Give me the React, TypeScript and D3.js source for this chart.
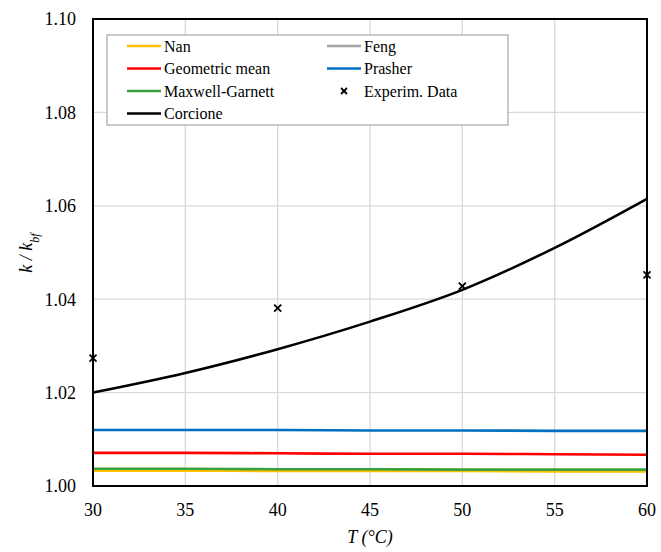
import React from "react";
import * as d3 from "d3";

const temps = [30, 35, 40, 45, 50, 55, 60];
const corcione = [1.02, 1.0242, 1.0293, 1.0352, 1.0420, 1.0510, 1.0615];
const prasher = [1.0120, 1.0120, 1.0120, 1.0119, 1.0119, 1.0118, 1.0118];
const geoMean = [1.0071, 1.0071, 1.0070, 1.0069, 1.0069, 1.0068, 1.0067];
const maxwell = [1.0037, 1.0037, 1.0036, 1.0036, 1.0035, 1.0035, 1.0035];
const feng = [1.0035, 1.0035, 1.0034, 1.0034, 1.0034, 1.0033, 1.0033];
const nan = [1.0033, 1.0033, 1.0032, 1.0032, 1.0032, 1.0031, 1.0031];
const expT = [30, 40, 50, 60];
const expK = [1.0274, 1.0381, 1.0428, 1.0452];
const xTicks = [30, 35, 40, 45, 50, 55, 60];
const yTicks = [1.0, 1.02, 1.04, 1.06, 1.08, 1.1];

const series = [
  { name: "Prasher", values: prasher, color: "#0070c0" },
  { name: "Geometric mean", values: geoMean, color: "#ff0000" },
  { name: "Feng", values: feng, color: "#a5a5a5" },
  { name: "Nan", values: nan, color: "#ffc000" },
  { name: "Maxwell-Garnett", values: maxwell, color: "#3aa23a" },
  { name: "Corcione", values: corcione, color: "#000000" },
];

export default function App() {
  const W = 661, H = 552;
  const m = { left: 93, right: 647, top: 19, bottom: 486 };
  const x = d3.scaleLinear().domain([30, 60]).range([m.left, m.right]);
  const y = d3.scaleLinear().domain([1.0, 1.1]).range([m.bottom, m.top]);
  const font = '"Liberation Serif", Tinos, "Times New Roman", "DejaVu Serif", serif';
  const tStyle = { fontFamily: font };
  const line = d3
    .line<number>()
    .x((_, i) => x(temps[i]))
    .y((d) => y(d))
    .curve(d3.curveMonotoneX);

  const legend = [
    { name: "Nan", color: "#ffc000", col: 0, row: 0 },
    { name: "Feng", color: "#a5a5a5", col: 1, row: 0 },
    { name: "Geometric mean", color: "#ff0000", col: 0, row: 1 },
    { name: "Prasher", color: "#0070c0", col: 1, row: 1 },
    { name: "Maxwell-Garnett", color: "#3aa23a", col: 0, row: 2 },
    { name: "Experim. Data", color: "marker", col: 1, row: 2 },
    { name: "Corcione", color: "#000000", col: 0, row: 3 },
  ];

  const cross = (cx: number, cy: number, s: number, key: string) => (
    <g key={key} stroke="#000" strokeWidth={1.8}>
      <line x1={cx - s} y1={cy - s} x2={cx + s} y2={cy + s} />
      <line x1={cx - s} y1={cy + s} x2={cx + s} y2={cy - s} />
    </g>
  );

  return (
    <svg width={W} height={H} style={{ position: "absolute", left: 0, top: 0, background: "#fff" }}>
      <rect x={0} y={0} width={W} height={H} fill="#fff" />
      {xTicks.map((t) => (
        <line key={"gx" + t} x1={x(t)} x2={x(t)} y1={m.top} y2={m.bottom} stroke="#d9d9d9" strokeWidth={1.3} />
      ))}
      {yTicks.map((t) => (
        <line key={"gy" + t} x1={m.left} x2={m.right} y1={y(t)} y2={y(t)} stroke="#d9d9d9" strokeWidth={1.3} />
      ))}
      {series.map((s) => (
        <path key={s.name} d={line(s.values) || ""} fill="none" stroke={s.color} strokeWidth={2.6} />
      ))}
      {expT.map((t, i) => cross(x(t), y(expK[i]), 3.5, "e" + i))}
      <rect x={m.left} y={m.top} width={m.right - m.left} height={m.bottom - m.top} fill="none" stroke="#000" strokeWidth={2} />
      {yTicks.map((t) => (
        <text key={"yt" + t} style={tStyle} x={76} y={y(t)} dy="0.35em" textAnchor="end" fontSize={18} fill="#000">
          {t.toFixed(2)}
        </text>
      ))}
      {xTicks.map((t) => (
        <text key={"xt" + t} style={tStyle} x={x(t)} y={516} textAnchor="middle" fontSize={18} fill="#000">
          {t}
        </text>
      ))}
      <text style={tStyle} x={370} y={543} textAnchor="middle" fontSize={18} fontStyle="italic">
        T (°C)
      </text>
      <text style={tStyle} transform="translate(32,253) rotate(-90)" textAnchor="middle" fontSize={18} fontStyle="italic">
        k / k<tspan baselineShift="sub" fontSize={12}>bf</tspan>
      </text>
      <rect x={107} y={35} width={401} height={90} fill="#fff" stroke="#a6a6a6" strokeWidth={1.2} />
      {legend.map((l) => {
        const lx = l.col === 0 ? 127 : 327;
        const ly = 46 + l.row * 22.5;
        return (
          <g key={l.name}>
            {l.color === "marker" ? (
              cross(lx + 17, ly, 3, "lm")
            ) : (
              <line x1={lx} x2={lx + 34} y1={ly} y2={ly} stroke={l.color} strokeWidth={2.6} />
            )}
            <text style={tStyle} x={lx + 37} y={ly} dy="0.35em" fontSize={16} fill="#000">
              {l.name}
            </text>
          </g>
        );
      })}
    </svg>
  );
}
